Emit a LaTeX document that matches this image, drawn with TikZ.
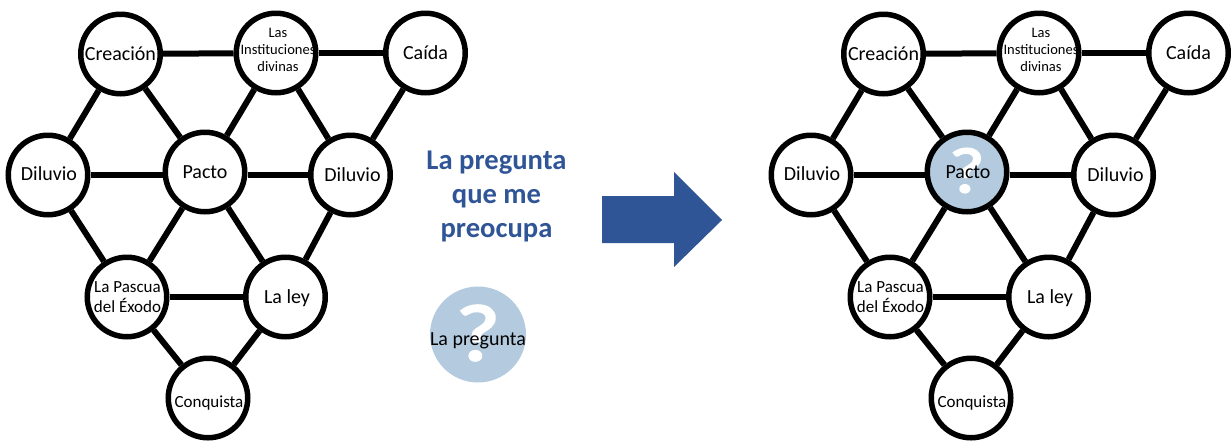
\documentclass[tikz,border=0pt]{standalone}
\usepackage{fontspec}
\setmainfont{Carlito}
\newfontfamily\qfont[FakeBold=3,FakeStretch=1.2]{Carlito}
\definecolor{qblue}{HTML}{B4CBDF}
\definecolor{dblue}{HTML}{2F5597}
\newcommand{\lab}[3]{\raisebox{\dimexpr#2-.35em\relax}[0pt][0pt]{\makebox[0pt]{\hspace*{#1}\hspace*{#1}\begin{tabular}{@{}c@{}}#3\end{tabular}}}}
\tikzset{
  x=1pt,y=-1pt,
  gnode/.style={circle,draw=black,line width=5.5pt,fill=white,minimum size=79.5pt,inner sep=0pt,text=black,font=\fontsize{20}{24}\selectfont},
  pasc/.style={font=\fontsize{17}{20.5}\selectfont},
  inst/.style={font=\fontsize{14.5}{17}\selectfont},
  edge/.style={line width=6pt,draw=black},
  qmark/.style={path picture={\node[text=white,inner sep=0pt,font=\qfont\fontsize{#1}{#1}\selectfont] at ([yshift=1.5pt]path picture bounding box.center) {?};}},
}
\begin{document}
\begin{tikzpicture}
\useasboundingbox (0,0) rectangle (1231,440);
% left graph
\node[gnode] (a1) at (120.5,54) {\lab{0pt}{0pt}{Creación}};
\node[gnode,inst] (a2) at (276,53) {\lab{2pt}{3pt}{Las\\Instituciones\\divinas}};
\node[gnode] (a3) at (425.5,53) {\lab{0pt}{0pt}{Caída}};
\node[gnode] (a4) at (48,175) {\lab{1pt}{1pt}{Diluvio}};
\node[gnode] (a5) at (205,172) {\lab{0pt}{0pt}{Pacto}};
\node[gnode] (a6) at (350.5,175) {\lab{2pt}{0pt}{Diluvio}};
\node[gnode,pasc] (a7) at (127,297) {\lab{0.5pt}{0pt}{La Pascua\\del Éxodo}};
\node[gnode] (a8) at (285.5,297) {\lab{1.5pt}{0pt}{La ley}};
\node[gnode,pasc] (a9) at (208,398) {\lab{1pt}{-4pt}{Conquista}};
\foreach \p/\q in {a1/a2,a2/a3,a1/a4,a1/a5,a2/a5,a2/a6,a3/a6,a4/a7,a5/a7,a5/a8,a6/a8,a7/a8,a7/a9,a8/a9}
  \draw[edge] (\p) -- (\q);
\draw[edge] (a4.east) -- (a4.east -| a5.west);
\draw[edge] (a6.west) -- (a6.west -| a5.east);
% right graph
\node[gnode] (b1) at (883.5,54) {\lab{0pt}{0pt}{Creación}};
\node[gnode,inst] (b2) at (1039,53) {\lab{2pt}{3pt}{Las\\Instituciones\\divinas}};
\node[gnode] (b3) at (1188.5,53) {\lab{0pt}{0pt}{Caída}};
\node[gnode] (b4) at (811,175) {\lab{1pt}{1pt}{Diluvio}};
\node[gnode,fill=qblue,qmark=64] (b5) at (967,172) {\lab{1pt}{0pt}{Pacto}};
\node[gnode] (b6) at (1113.5,175) {\lab{2pt}{0pt}{Diluvio}};
\node[gnode,pasc] (b7) at (890,297) {\lab{0.5pt}{0pt}{La Pascua\\del Éxodo}};
\node[gnode] (b8) at (1048.5,297) {\lab{1.5pt}{0pt}{La ley}};
\node[gnode,pasc] (b9) at (971,398) {\lab{1pt}{-4pt}{Conquista}};
\foreach \p/\q in {b1/b2,b2/b3,b1/b4,b1/b5,b2/b5,b2/b6,b3/b6,b4/b7,b5/b7,b5/b8,b6/b8,b7/b8,b7/b9,b8/b9}
  \draw[edge] (\p) -- (\q);
\draw[edge] (b4.east) -- (b4.east -| b5.west);
\draw[edge] (b6.west) -- (b6.west -| b5.east);
% centre
\node[text=dblue,align=center,font=\fontsize{28.6}{34}\selectfont\bfseries] (title) at (496.5,196) {La pregunta\\que me\\preocupa};
\node[circle,fill=qblue,minimum size=96pt,inner sep=0pt,qmark=80,font=\fontsize{20}{24}\selectfont,text=black] (legend) at (478,334.5) {\lab{0pt}{-4.5pt}{La pregunta}};
\fill[dblue] (602,196) -- (674,196) -- (674,172) -- (722,220) -- (674,267) -- (674,243) -- (602,243) -- cycle;
\end{tikzpicture}
\end{document}
